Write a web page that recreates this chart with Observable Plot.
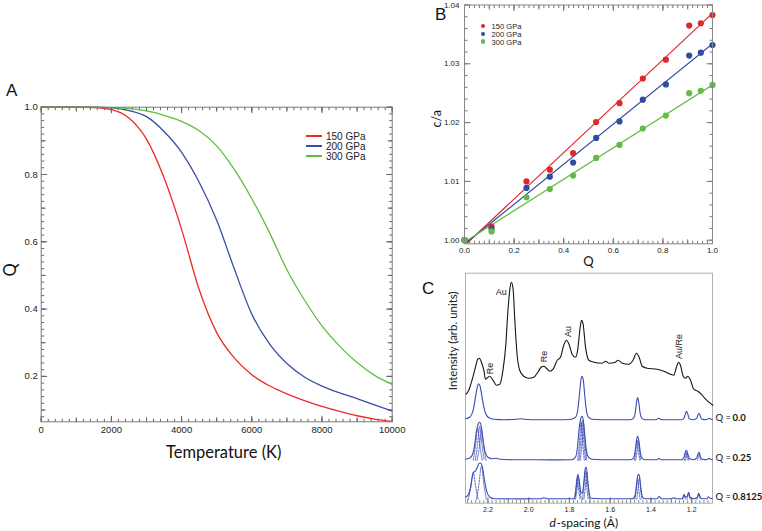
<!DOCTYPE html>
<html><head><meta charset="utf-8">
<script src="https://cdn.jsdelivr.net/npm/d3@7"></script>
<script src="https://cdn.jsdelivr.net/npm/@observablehq/plot@0.6"></script>
<style>
body{margin:0;background:#fff;}
#wrap{position:relative;width:762px;height:531px;overflow:hidden;background:#fff;font-family:"Liberation Sans",Arial,sans-serif;color:#222;}
.t{position:absolute;white-space:nowrap;transform:translateY(-50%);}
</style></head><body><div id="wrap"></div>
<script>
// ---------- Panel A data ----------
const tempK = [0,500,1000,1500,2000,2500,3000,3500,4000,4500,5000,5500,6000,6500,7000,7500,8000,8500,9000,9500,10000];
const q150 = [1,1,1,0.999,0.993,0.968,0.905,0.79,0.637,0.458,0.33,0.255,0.205,0.172,0.148,0.128,0.111,0.096,0.083,0.073,0.066];
const q200 = [1,1,1,1,0.998,0.99,0.972,0.928,0.866,0.777,0.664,0.52,0.385,0.297,0.238,0.198,0.171,0.151,0.134,0.115,0.097];
const q300 = [1,1,1,1,0.999,0.996,0.989,0.976,0.958,0.93,0.885,0.815,0.728,0.628,0.517,0.427,0.35,0.29,0.241,0.203,0.176];
const pressures = ["150 GPa","200 GPa","300 GPa"];
const colorsA = ["#ee2a24","#3a4ea3","#5fbf3b"];
const aXTicks = [0,2000,4000,6000,8000,10000];
const aYTicks = [0.2,0.4,0.6,0.8,1.0];

// ---------- Panel B data ----------
const qB = [0,0.109,0.25,0.344,0.438,0.531,0.625,0.719,0.812,0.906,0.953,1.0];
const ca150 = [1.0000,1.0023,1.0100,1.0120,1.0148,1.0201,1.0233,1.0275,1.0307,1.0365,1.0369,1.0383];
const ca200 = [1.0000,1.0019,1.0089,1.0108,1.0132,1.0174,1.0202,1.0239,1.0265,1.0314,1.0319,1.0332];
const ca300 = [1.0000,1.0015,1.0073,1.0087,1.0110,1.0140,1.0162,1.0190,1.0212,1.0250,1.0254,1.0264];
const fitQ = [0,1];
const fit150 = [0.9991,1.0386];
const fit200 = [0.9993,1.0334];
const fit300 = [0.9997,1.0264];
const colorsB = ["#e2262b","#2f4c9e","#63bb47"];
const bXTicks = [0,0.2,0.4,0.6,0.8,1.0];
const bYTicks = [1.00,1.01,1.02,1.03,1.04];

// ---------- Panel C data ----------
const cXTicks = [2.2,2.0,1.8,1.6,1.4,1.2];
const traceNames = ["observed","Q = 0.0","Q = 0.25","Q = 0.8125"];
const traceOffsets = [95,83,43,4];
const observed = [[2.307,14],[2.294,18],[2.278,28],[2.261,41],[2.25,49],[2.242,50],[2.232,46],[2.22,38],[2.212,29],[2.191,32],[2.175,28],[2.158,23],[2.142,24],[2.126,38],[2.112,64],[2.103,94],[2.093,118],[2.085,126],[2.076,118],[2.068,88],[2.057,54],[2.044,38],[2.024,32],[2.0,30],[1.975,31],[1.955,36],[1.939,41],[1.926,42],[1.913,40],[1.896,37],[1.88,39],[1.86,48],[1.844,51],[1.828,63],[1.815,68],[1.802,64],[1.787,54],[1.77,51],[1.759,59],[1.749,78],[1.741,88],[1.733,84],[1.721,61],[1.705,48],[1.68,46],[1.639,45],[1.623,47],[1.607,45],[1.574,46],[1.562,48],[1.541,45],[1.509,44],[1.488,48],[1.471,55],[1.458,51],[1.443,42],[1.419,40],[1.37,39],[1.337,37],[1.304,34],[1.288,33],[1.275,41],[1.265,46],[1.255,43],[1.242,32],[1.23,30],[1.219,32],[1.206,28],[1.19,19],[1.17,17],[1.153,14],[1.132,9],[1.116,6],[1.096,3]];
const calcQ0 = [[2.31,1.5],[2.29,3],[2.275,8],[2.265,18],[2.255,30],[2.247,36.5],[2.24,35],[2.232,27],[2.222,15],[2.21,6],[2.195,2.5],[2.17,1],[2.12,0.5],[2.06,1],[2.04,1.5],[2.02,1],[1.95,0.5],[1.85,0.5],[1.79,1],[1.77,3],[1.758,12],[1.75,28],[1.742,42],[1.737,44],[1.732,40],[1.725,25],[1.717,10],[1.707,3],[1.69,1],[1.6,0.5],[1.5,0.5],[1.485,2],[1.476,9],[1.47,19],[1.465,22.7],[1.46,18],[1.453,7],[1.445,2],[1.43,0.5],[1.375,0.5],[1.362,2],[1.35,0.5],[1.25,0.5],[1.238,2],[1.23,7],[1.225,9],[1.219,6],[1.212,1.5],[1.19,0.5],[1.175,2],[1.168,6],[1.163,6.7],[1.158,4],[1.15,1],[1.13,0.5],[1.118,1.5],[1.112,2],[1.105,1],[1.098,0.5]];
const calcQ25 = [[2.31,1],[2.29,2],[2.275,6],[2.265,15],[2.257,28],[2.248,36],[2.24,38],[2.232,33],[2.224,20],[2.215,9],[2.2,3],[2.18,1.5],[2.16,2],[2.14,1],[2.08,0.5],[2.0,0.5],[1.9,0.3],[1.79,0.5],[1.77,3],[1.76,14],[1.752,32],[1.744,42],[1.738,44],[1.732,40],[1.725,26],[1.717,10],[1.707,3],[1.69,1],[1.6,0.5],[1.5,0.5],[1.485,2],[1.477,10],[1.47,21],[1.465,24],[1.459,19],[1.452,8],[1.444,2],[1.43,0.5],[1.37,0.5],[1.36,2],[1.352,0.5],[1.25,0.5],[1.238,3],[1.23,9],[1.225,10],[1.219,6],[1.21,1.5],[1.19,0.5],[1.176,2],[1.168,7],[1.163,8],[1.158,4],[1.15,1],[1.125,0.5],[1.115,2],[1.108,1],[1.098,0.5]];
const calcQ8125 = [[2.31,2],[2.295,5],[2.285,12],[2.277,22],[2.27,27],[2.262,28],[2.252,32],[2.243,36],[2.235,36],[2.226,31],[2.216,18],[2.205,7],[2.19,2],[2.17,0.5],[2.05,0.3],[1.94,0.5],[1.925,1.5],[1.91,0.5],[1.78,0.5],[1.772,3],[1.765,15],[1.759,25],[1.752,19],[1.744,7],[1.736,6],[1.729,18],[1.722,31],[1.717,32],[1.711,20],[1.703,6],[1.695,1],[1.6,0.5],[1.49,0.5],[1.478,4],[1.47,16],[1.463,25],[1.457,24],[1.451,14],[1.443,3],[1.43,0.5],[1.37,0.5],[1.36,3],[1.35,0.5],[1.3,0.5],[1.288,1.5],[1.278,0.5],[1.245,0.5],[1.238,5],[1.231,2],[1.222,3],[1.215,7],[1.208,2],[1.19,0.5],[1.172,2],[1.166,6],[1.16,3],[1.15,0.5],[1.125,0.5],[1.118,2.5],[1.11,1],[1.098,0.5]];
// component (dashed) peaks, Q = 0.25
const compQ25 = [
 [[2.272,0],[2.261,14],[2.250,32],[2.239,14],[2.228,0]],
 [[2.262,0],[2.251,15],[2.240,34],[2.229,15],[2.218,0]],
 [[2.253,0],[2.242,13],[2.231,30],[2.220,13],[2.209,0]],
 [[1.759,0],[1.751,17],[1.743,38],[1.735,17],[1.727,0]],
 [[1.753,0],[1.745,18],[1.737,40],[1.729,18],[1.721,0]],
 [[1.747,0],[1.739,16],[1.731,36],[1.723,16],[1.715,0]],
 [[1.481,0],[1.4745,9],[1.468,20],[1.4615,9],[1.455,0]],
 [[1.475,0],[1.4685,8.5],[1.462,19],[1.4555,8.5],[1.449,0]],
 [[1.236,0],[1.2315,3.5],[1.227,8],[1.2225,3.5],[1.218,0]],
 [[1.231,0],[1.2265,3],[1.222,7],[1.2175,3],[1.213,0]],
 [[1.172,0],[1.168,2.7],[1.164,6],[1.160,2.7],[1.156,0]]
];
// component (dashed) peaks, Q = 0.8125
const compQ8125 = [
 [[2.296,0],[2.284,12],[2.272,27],[2.260,12],[2.248,0]],
 [[2.256,0],[2.244,15],[2.232,33],[2.220,15],[2.208,0]],
 [[1.776,0],[1.769,10],[1.762,22],[1.755,10],[1.748,0]],
 [[1.770,0],[1.763,9.5],[1.756,21],[1.749,9.5],[1.742,0]],
 [[1.736,0],[1.729,12.5],[1.722,28],[1.715,12.5],[1.708,0]],
 [[1.729,0],[1.722,12],[1.715,27],[1.708,12],[1.701,0]],
 [[1.479,0],[1.4725,9],[1.466,20],[1.4595,9],[1.453,0]],
 [[1.470,0],[1.4635,9.5],[1.457,21],[1.4505,9.5],[1.444,0]],
 [[1.245,0],[1.2415,2],[1.238,4.5],[1.2345,2],[1.231,0]],
 [[1.223,0],[1.219,2.7],[1.215,6],[1.211,2.7],[1.207,0]],
 [[1.174,0],[1.170,2.5],[1.166,5.5],[1.162,2.5],[1.158,0]]
];
const annText = ["Au","Re","Re","Au","Au/Re"];
const annD = [2.134,2.188,1.926,1.808,1.263];
const annY = [211,134.7,146.7,171.7,156.7];
const annRotate = [0,-90,-90,-90,-90];
const qLabelNums = ["0.0","0.25","0.8125"];

// ---------- helpers ----------
const wrap = document.getElementById("wrap");
function place(svg, left, top) {
  svg.style.position = "absolute"; svg.style.left = left + "px"; svg.style.top = top + "px";
  svg.style.background = "transparent"; svg.style.maxWidth = "none"; svg.style.overflow = "visible";
  wrap.appendChild(svg);
}
function label(html, left, top, css) {
  const d = document.createElement("div");
  d.className = "t"; d.innerHTML = html;
  d.style.left = left + "px"; d.style.top = top + "px";
  Object.assign(d.style, css || {});
  wrap.appendChild(d);
}
// inward tick marks: short rules whose pixel length is converted to the scale span
function boxTicks(xs, ys, xd, yd, fw, fh, stroke, sides) {
  const marks = [];
  const lens = [3, 4.5, 6];
  const sx = (xd[1] - xd[0]) / fw, sy = (yd[1] - yd[0]) / fh;
  for (const s of sides) {
    const set = (s === "bottom" || s === "top") ? xs : ys;
    set.forEach((vals, i) => {
      if (!vals.length) return;
      const L = lens[i];
      const data = vals.map(v => ({v}));
      if (s === "bottom") marks.push(Plot.link(data, {x1: "v", x2: "v", y1: () => yd[0], y2: () => yd[0] + L * sy, stroke, strokeWidth: 1}));
      if (s === "top") marks.push(Plot.link(data, {x1: "v", x2: "v", y1: () => yd[1], y2: () => yd[1] - L * sy, stroke, strokeWidth: 1}));
      if (s === "left") marks.push(Plot.link(data, {y1: "v", y2: "v", x1: () => xd[0], x2: () => xd[0] + L * sx, stroke, strokeWidth: 1}));
      if (s === "right") marks.push(Plot.link(data, {y1: "v", y2: "v", x1: () => xd[1], x2: () => xd[1] - L * sx, stroke, strokeWidth: 1}));
    });
  }
  return marks;
}
const rng = (a, b, div) => d3.range(a, b + 1).map(i => i / div);

// ---------- Panel A ----------
const rowsA = [];
[q150, q200, q300].forEach((arr, i) => arr.forEach((q, j) => rowsA.push({T: tempK[j], Q: q, p: pressures[i]})));
const xdA = [0, 10000], ydA = [0.065, 1.0];
const plotA = Plot.plot({
  width: 400, height: 470,
  marginLeft: 40.7, marginRight: 8.3, marginTop: 106.7, marginBottom: 48.7,
  style: {fontFamily: "Liberation Sans, Arial, sans-serif", color: "#222"},
  x: {domain: xdA},
  y: {domain: ydA},
  color: {domain: pressures, range: colorsA},
  marks: [
    ...boxTicks([rng(0, 50, 0.005), rng(0, 10, 0.001), aXTicks], [rng(4, 50, 50), rng(1, 10, 10), aYTicks], xdA, ydA, 351, 314.6, "#666", ["bottom", "top", "left", "right"]),
    Plot.line(rowsA, {x: "T", y: "Q", z: "p", stroke: "p", curve: "monotone-x", strokeWidth: 1.3}),
    Plot.frame({stroke: "#7a7a7a", strokeWidth: 1}),
    Plot.axisX({ticks: aXTicks, tickSize: 0, tickPadding: 4.5, fontSize: 9.5, tickFormat: d3.format("d"), label: null}),
    Plot.axisY({ticks: aYTicks, tickSize: 0, tickPadding: 3.5, fontSize: 9.5, tickFormat: d3.format(".1f"), label: null}),
    Plot.text(["Temperature (K)"], {frameAnchor: "bottom", dx: 7, dy: 31.4, lineAnchor: "middle", fontSize: 16.5, fontFamily: "Lato", fill: "#111"}),
    Plot.text(["Q"], {frameAnchor: "left", dx: -30.7, dy: 12, rotate: -90, lineAnchor: "middle", fontSize: 16.5, fontFamily: "Lato", fill: "#111"})
  ]
});
place(plotA, 0, 0);

// ---------- Panel B ----------
const rowsB = [];
[ca150, ca200, ca300].forEach((arr, i) => arr.forEach((v, j) => rowsB.push({Q: qB[j], ca: v, p: pressures[i]})));
const fitRows = [];
[fit150, fit200, fit300].forEach((arr, i) => arr.forEach((v, j) => fitRows.push({Q: fitQ[j], ca: v, p: pressures[i]})));
const xdB = [0, 1], ydB = [0.99939, 1.04];
const plotB = Plot.plot({
  width: 342, height: 270,
  marginLeft: 44, marginRight: 50, marginTop: 4.5, marginBottom: 26.7,
  style: {fontFamily: "Liberation Sans, Arial, sans-serif", color: "#222"},
  x: {domain: xdB},
  y: {domain: ydB},
  color: {domain: pressures, range: colorsB},
  marks: [
    ...boxTicks([rng(0, 50, 50), rng(0, 10, 10), bXTicks], [rng(500, 520, 500), [], bYTicks], xdB, ydB, 248, 238.8, "#777", ["bottom", "top", "left", "right"]),
    Plot.line(fitRows, {x: "Q", y: "ca", z: "p", stroke: "p", strokeWidth: 1.2, clip: true}),
    Plot.dot(rowsB, {x: "Q", y: "ca", fill: "p", r: 3.1}),
    Plot.frame({stroke: "#888", strokeWidth: 1}),
    Plot.axisX({ticks: bXTicks, tickSize: 0, tickPadding: 4, fontSize: 8, tickFormat: d3.format(".1f"), label: null}),
    Plot.axisY({ticks: bYTicks, tickSize: 0, tickPadding: 5, fontSize: 8, tickFormat: d3.format(".2f"), label: null}),
    Plot.text(["Q"], {frameAnchor: "bottom", dy: 18.4, lineAnchor: "middle", fontSize: 13, fontFamily: "Lato", fill: "#111"}),
    Plot.text(["c/a"], {frameAnchor: "left", dx: -27.3, dy: 3, rotate: -90, lineAnchor: "middle", fontSize: 12.5, fontFamily: "Lato", fill: "#111"})
  ]
});
place(plotB, 420, 0);

// ---------- Panel C ----------
const toRows = (pts, off) => pts.map(([d, h]) => ({d, y: off + h}));
const obsRows = toRows(observed, traceOffsets[0]);
const q0Rows = toRows(calcQ0, traceOffsets[1]);
const q25Rows = toRows(calcQ25, traceOffsets[2]);
const q8125Rows = toRows(calcQ8125, traceOffsets[3]);
const compRows = [];
compQ25.forEach((pk, i) => pk.forEach(([d, h]) => compRows.push({d, y: traceOffsets[2] + h, id: "a" + i})));
compQ8125.forEach((pk, i) => pk.forEach(([d, h]) => compRows.push({d, y: traceOffsets[3] + h, id: "b" + i})));
const annRows = annText.map((t, i) => ({t, d: annD[i], y: annY[i], r: annRotate[i]}));
const qLabRows = qLabelNums.map((n, i) => ({n, y: traceOffsets[i + 1] + 2}));
const blueC = "#3a4cb4";
const xdC = [2.31, 1.098], ydC = [0, 230];
const plotC = Plot.plot({
  width: 322, height: 266,
  marginLeft: 25, marginRight: 50, marginTop: 7.7, marginBottom: 28.3,
  style: {fontFamily: "Liberation Sans, Arial, sans-serif", color: "#222"},
  x: {domain: xdC},
  y: {domain: ydC, axis: null},
  marks: [
    ...boxTicks([rng(56, 115, 50), rng(12, 23, 10), cXTicks], [], xdC, ydC, 247, 230, "#888", ["bottom"]),
    Plot.frame({stroke: "#b0b0b0", strokeWidth: 1}),
    Plot.line(compRows, {x: "d", y: "y", z: "id", stroke: blueC, strokeWidth: 0.9, strokeDasharray: "1.6,1.4", curve: "monotone-x"}),
    Plot.line(obsRows, {x: "d", y: "y", stroke: "#151515", strokeWidth: 1.1, curve: "monotone-x"}),
    Plot.line(q0Rows, {x: "d", y: "y", stroke: blueC, strokeWidth: 1.1, curve: "monotone-x"}),
    Plot.line(q25Rows, {x: "d", y: "y", stroke: blueC, strokeWidth: 1.1, curve: "monotone-x"}),
    Plot.line(q8125Rows, {x: "d", y: "y", stroke: blueC, strokeWidth: 1.1, curve: "monotone-x"}),
    Plot.axisX({ticks: cXTicks, tickSize: 0, tickPadding: 3.5, fontSize: 7, tickFormat: d3.format(".1f"), label: null}),
    Plot.text(annRows, {x: "d", y: "y", text: "t", rotate: "r", fontSize: 9, fill: "#222"}),
    Plot.text(qLabRows, {x: () => 1.098, y: "y", text: () => "Q =", textAnchor: "start", dx: 3, fontSize: 9.5, fontFamily: "Lato", fill: "#111"}),
    Plot.text(qLabRows, {x: () => 1.098, y: "y", text: "n", textAnchor: "start", dx: 20, fontSize: 9.5, fontWeight: "bold", fontFamily: "Lato", fill: "#111"}),
    Plot.text(["Intensity (arb. units)"], {frameAnchor: "left", dx: -12, dy: 2, rotate: -90, lineAnchor: "middle", fontSize: 11.5, fontFamily: "Lato", fill: "#222"}),
    Plot.text(["d"], {frameAnchor: "bottom", dx: -39.5, dy: 20.3, textAnchor: "start", lineAnchor: "middle", fontSize: 12, fontStyle: "italic", fontFamily: "Lato", fill: "#111"}),
    Plot.text(["-spacing (Å)"], {frameAnchor: "bottom", dx: -32.4, dy: 20.3, textAnchor: "start", lineAnchor: "middle", fontSize: 12, fontFamily: "Lato", fill: "#111"})
  ]
});
place(plotC, 440, 265);

// ---------- legends and panel letters ----------
const legY = [136, 146, 156];
pressures.forEach((p, i) => {
  const ln = document.createElement("div");
  Object.assign(ln.style, {position: "absolute", left: "306px", width: "16px", top: (legY[i] - 0.75) + "px", height: "1.5px", background: colorsA[i]});
  wrap.appendChild(ln);
  label(p, 326, legY[i], {fontSize: "10px"});
});
const legBY = [25.7, 34, 41.6];
pressures.forEach((p, i) => {
  const dt = document.createElement("div");
  Object.assign(dt.style, {position: "absolute", left: "480.5px", top: (legBY[i] - 2.2) + "px", width: "4.4px", height: "4.4px", borderRadius: "50%", background: colorsB[i]});
  wrap.appendChild(dt);
  label(p, 491.5, legBY[i], {fontSize: "7.6px"});
});
label("A", 6, 91, {fontSize: "17px", color: "#111"});
label("B", 435, 15, {fontSize: "17px", color: "#111"});
label("C", 422, 289, {fontSize: "17px", color: "#111"});
</script></body></html>
